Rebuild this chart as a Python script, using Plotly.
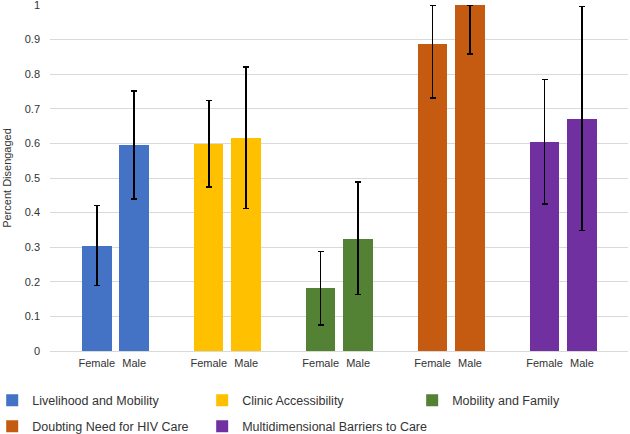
import plotly.graph_objects as go

categories = ["Livelihood and Mobility", "Clinic Accessibility", "Mobility and Family",
              "Doubting Need for HIV Care", "Multidimensional Barriers to Care"]
sexes = ["Female", "Male"]
female = [0.304, 0.598, 0.181, 0.886, 0.604]
male = [0.595, 0.617, 0.324, 1.0, 0.671]
female_hi = [0.420, 0.724, 0.287, 0.998, 0.785]
female_lo = [0.189, 0.474, 0.075, 0.731, 0.425]
male_hi = [0.752, 0.821, 0.488, 1.0, 0.995]
male_lo = [0.440, 0.412, 0.164, 0.859, 0.349]
y_ticks = [0, 0.1, 0.2, 0.3, 0.4, 0.5, 0.6, 0.7, 0.8, 0.9, 1]
y_ticktext = ["0", "0.1", "0.2", "0.3", "0.4", "0.5", "0.6", "0.7", "0.8", "0.9", "1"]
colors = ["#4472C4", "#FFC000", "#548235", "#C55A11", "#7030A0"]

FONT = "Liberation Sans, Arial, sans-serif"
d = 0.167
fig = go.Figure()
tickvals, ticktext = [], []
legend_ids = ["legend", "legend2", "legend3", "legend4", "legend5"]
for i, cat in enumerate(categories):
    xs = [i - d, i + d]
    vals = [female[i], male[i]]
    hi = [female_hi[i], male_hi[i]]
    lo = [female_lo[i], male_lo[i]]
    tickvals += xs
    ticktext += sexes
    fig.add_trace(go.Bar(
        x=xs, y=vals, name=cat, width=0.263, showlegend=True,
        marker=dict(color=colors[i], line=dict(width=0)),
        error_y=dict(type="data", symmetric=False,
                     array=[h - v for h, v in zip(hi, vals)],
                     arrayminus=[v - l for v, l in zip(vals, lo)],
                     color="black", thickness=1.5, width=3),
        legend=legend_ids[i],
    ))

# legend slot positions (paper coords): 3 columns x 2 rows
col_x = [-0.1, 0.2633, 0.6266]
row_y = [-0.1436, -0.2188]
slots = [(0, 0), (1, 0), (2, 0), (0, 1), (1, 1)]
leg_layout = {}
for lid, (c, r) in zip(legend_ids, slots):
    leg_layout[lid] = dict(orientation="h", x=col_x[c], xanchor="left",
                           y=row_y[r], yanchor="middle", itemwidth=30,
                           font=dict(size=12.5, color="#333333"),
                           bgcolor="rgba(0,0,0,0)", visible=True)

fig.update_layout(
    width=630, height=434, showlegend=True,
    margin=dict(l=50, r=2, t=5, b=83, autoexpand=False),
    paper_bgcolor="white", plot_bgcolor="white",
    font=dict(family=FONT, size=11, color="#333333"),
    bargap=0,
    xaxis=dict(range=[-0.585, 4.578], tickvals=tickvals, ticktext=ticktext,
               showgrid=False, zeroline=False, showline=False, ticks="",
               tickangle=0, automargin=False, ticklabelstandoff=4,
               tickfont=dict(size=11, color="#333333")),
    yaxis=dict(range=[0, 1], tickvals=y_ticks, ticktext=y_ticktext,
               showgrid=True, gridcolor="#D9D9D9",
               gridwidth=1, zeroline=True, zerolinecolor="#D9D9D9", zerolinewidth=1,
               showline=False, ticks="", tickfont=dict(size=11, color="#333333"),
               automargin=False, ticklabelstandoff=9, ticklabeloverflow="allow",
               title=dict(text="Percent Disengaged", font=dict(size=11, color="#333333"),
                          standoff=10)),
    **leg_layout,
)
fig.write_html("out.html", config={"displayModeBar": False},
               post_script="document.body.style.margin='0';")
